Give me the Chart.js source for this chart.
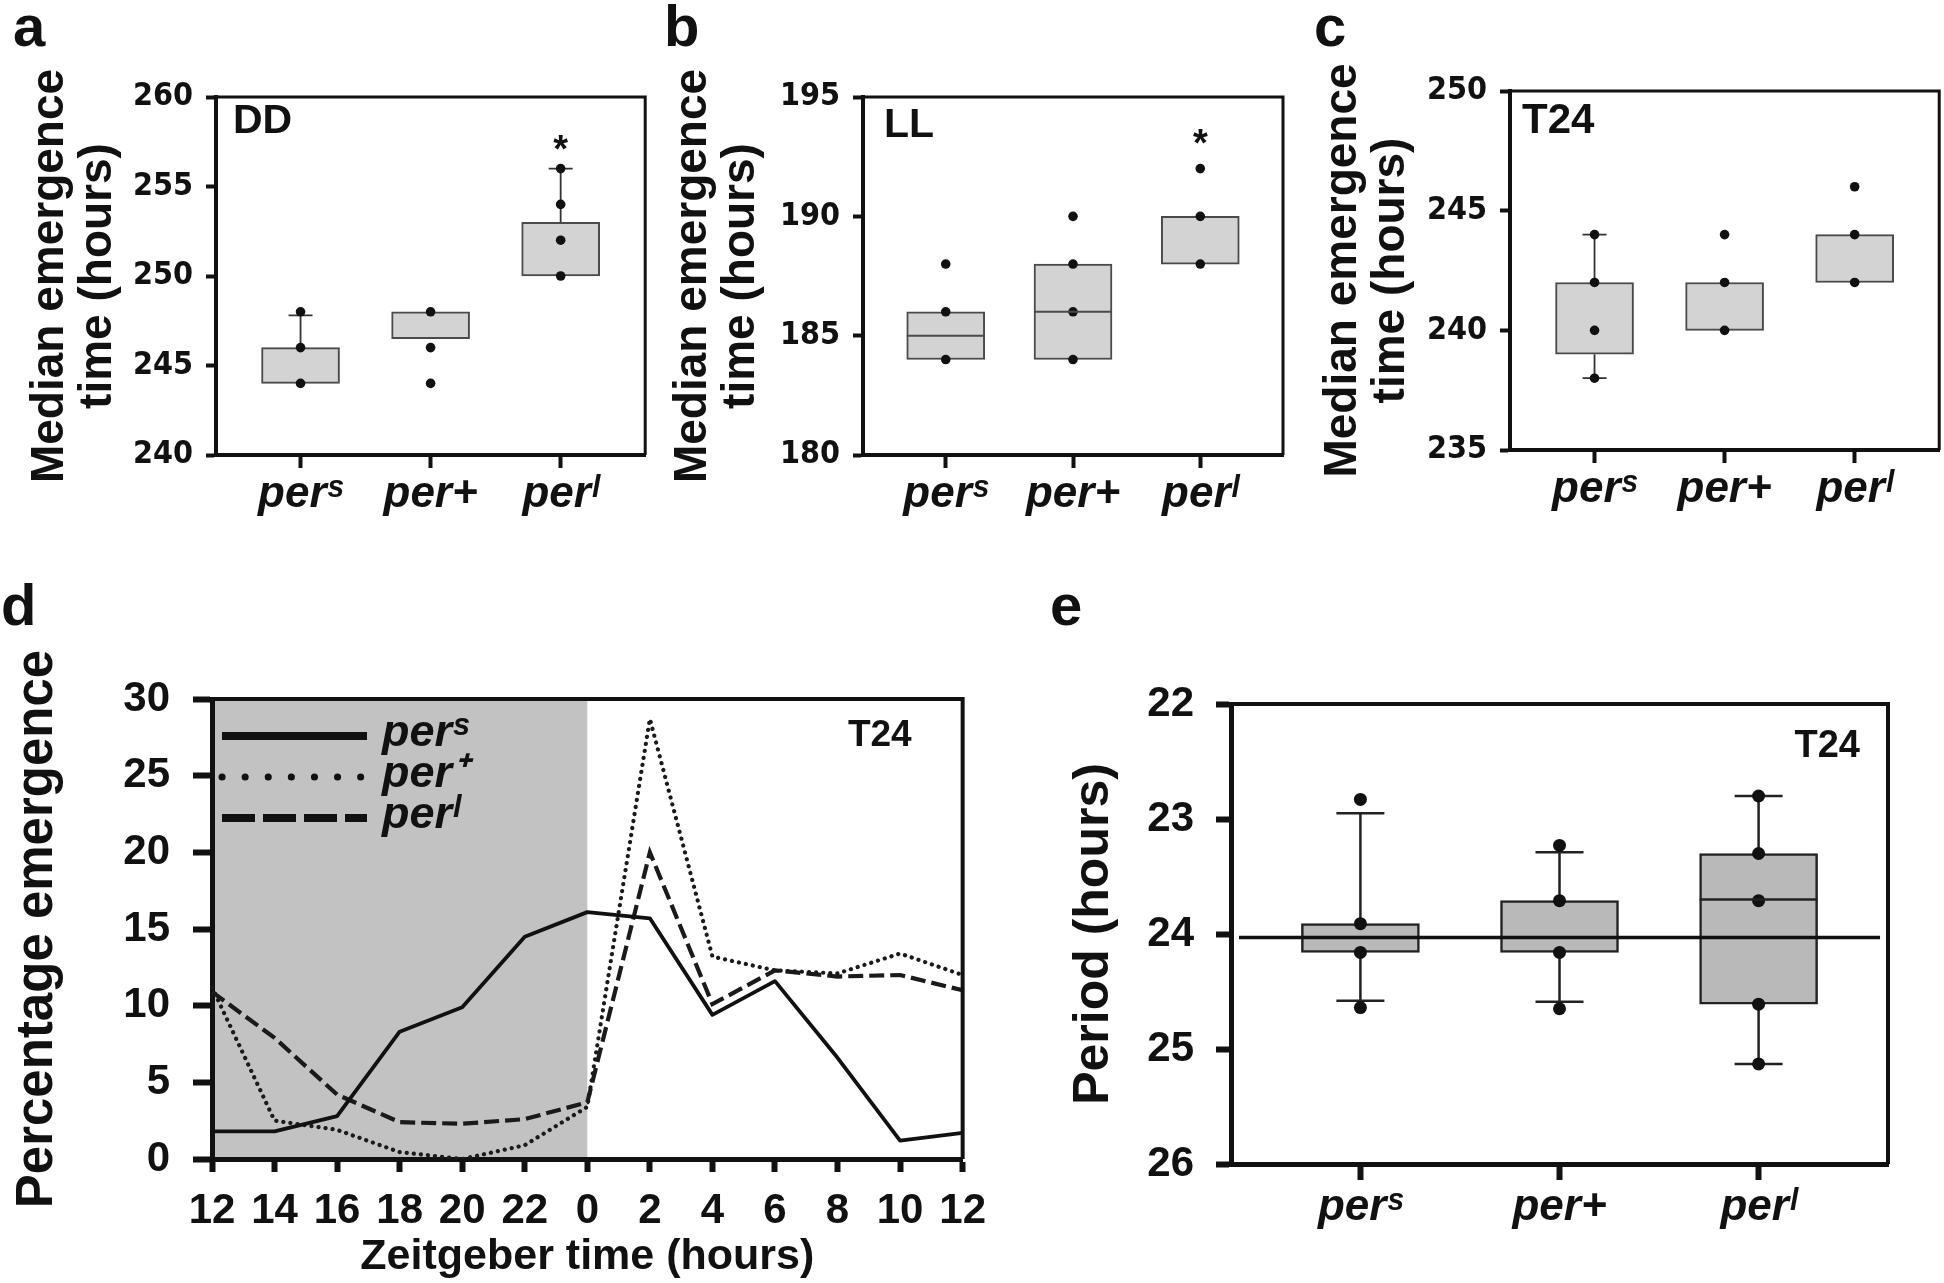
<!DOCTYPE html>
<html>
<head>
<meta charset="utf-8">
<title>Emergence timing of per mutants</title>
<script src="https://cdn.jsdelivr.net/npm/chart.js@4.4.1/dist/chart.umd.min.js"></script>
<style>
  html, body { margin: 0; padding: 0; background: #fff; }
  body { position: relative; width: 1944px; height: 1283px; overflow: hidden; }
  .panel { position: absolute; }
  .letter { position: absolute; font: bold 58px/58px "Liberation Sans", Arial, sans-serif; color: #111; z-index: 2; }
</style>
</head>
<body>
<div class="panel" style="left:0;top:0;width:650px;height:530px"><canvas id="chartA"></canvas></div>
<div class="panel" style="left:650px;top:0;width:650px;height:530px"><canvas id="chartB"></canvas></div>
<div class="panel" style="left:1300px;top:0;width:644px;height:530px"><canvas id="chartC"></canvas></div>
<div class="panel" style="left:0;top:580px;width:1000px;height:703px"><canvas id="chartD"></canvas></div>
<div class="panel" style="left:1050px;top:580px;width:894px;height:703px"><canvas id="chartE"></canvas></div>
<div class="letter" style="left:13px;top:-3px">a</div>
<div class="letter" style="left:664px;top:-3px">b</div>
<div class="letter" style="left:1314px;top:-3px">c</div>
<div class="letter" style="left:1px;top:576px">d</div>
<div class="letter" style="left:1050px;top:576px">e</div>
<script>
const SANS = '"Liberation Sans", Arial, sans-serif';
const NARROW = '"Liberation Sans Narrow", "Arial Narrow", "DejaVu Sans Condensed", sans-serif';
Chart.defaults.color = "#111";
Chart.defaults.font.family = SANS;

// genotypes (x categories of the box panels)
const groups = ["perˢ", "per+", "perˡ"];
const groupPos = [1, 2, 3];

// a: median emergence, DD
const ddTicks = [240, 245, 250, 255, 260];
const ddPoints = [[248, 246, 244], [248, 246, 244], [256, 254, 252, 250]];
const ddBoxLow = [244, 246.5, 250];
const ddBoxHigh = [246, 248, 253];
const ddWhiskerHigh = [247.8, null, 256];
const ddStars = [null, null, 257.4];

// b: median emergence, LL
const llTicks = [180, 185, 190, 195];
const llPoints = [[188, 186, 184], [190, 188, 186, 184], [192, 190, 188]];
const llBoxLow = [184, 184, 188];
const llBoxHigh = [186, 188, 190];
const llMedian = [185, 186, null];
const llStars = [null, null, 193.3];

// c: median emergence, T24
const t24Ticks = [235, 240, 245, 250];
const t24Points = [[244, 242, 240, 238], [244, 242, 240], [246, 244, 242]];
const t24BoxLow = [239, 240, 242];
const t24BoxHigh = [242, 242, 244];
const t24WhiskerLow = [238, null, null];
const t24WhiskerHigh = [244, null, null];

// d: percentage emergence over Zeitgeber time
const ztLabels = ["12", "14", "16", "18", "20", "22", "0", "2", "4", "6", "8", "10", "12"];
const pctTicks = [0, 5, 10, 15, 20, 25, 30];
const persPct = [1.8, 1.8, 2.8, 8.3, 9.9, 14.5, 16.1, 15.7, 9.4, 11.6, 6.6, 1.2, 1.7];
const perPlusPct = [11.2, 2.5, 1.9, 0.45, 0, 0.9, 3.4, 28.7, 13.2, 12.3, 12.1, 13.4, 12.0];
const perlPct = [10.9, 7.9, 4.2, 2.4, 2.3, 2.6, 3.7, 20.0, 10.1, 12.3, 11.9, 12.0, 11.0];
const darkPhase = [0, 6];

// e: free-running period, T24
const periodTicks = [22, 23, 24, 25, 26];
const periodPoints = [[22.83, 23.91, 24.16, 24.64], [23.23, 23.71, 24.16, 24.65], [22.80, 23.30, 23.71, 24.61, 25.13]];
const periodBoxLow = [23.91, 23.71, 23.30];
const periodBoxHigh = [24.16, 24.16, 24.61];
const periodMedian = [null, null, 23.70];
const periodWhiskerLow = [22.95, 23.29, 22.80];
const periodWhiskerHigh = [24.58, 24.59, 25.13];
const periodRef = 24.03;
const periodRefSpan = [0.39, 3.61];

const frame = {
  id: "frame",
  afterDraw(chart, args, o) {
    const { ctx, chartArea: a } = chart;
    ctx.save();
    ctx.strokeStyle = "#111";
    ctx.lineWidth = o.width;
    ctx.beginPath();
    ctx.moveTo(a.left, a.top);
    ctx.lineTo(a.right, a.top);
    ctx.lineTo(a.right, a.bottom);
    ctx.stroke();
    ctx.restore();
  }
};

const tag = {
  id: "tag",
  afterDraw(chart, args, o) {
    const { ctx, chartArea: a } = chart;
    ctx.save();
    ctx.font = o.font;
    ctx.fillStyle = "#111";
    ctx.textAlign = o.align;
    ctx.textBaseline = "alphabetic";
    ctx.fillText(o.text, o.align === "right" ? a.right - o.dx : a.left + o.dx, a.top + o.dy);
    ctx.restore();
  }
};

const boxExtras = {
  id: "boxExtras",
  beforeDatasetsDraw(chart) {
    const ds = chart.data.datasets[0];
    const { ctx, scales: { x, y } } = chart;
    ctx.save();
    ctx.strokeStyle = ds.whiskerColor;
    ctx.lineWidth = ds.whiskerWidth;
    ds.data.forEach((box, i) => {
      const cx = x.getPixelForValue(box.x);
      [[box.y[0], ds.whiskerLow[i]], [box.y[1], ds.whiskerHigh[i]]].forEach(([from, to]) => {
        if (to == null) return;
        const y1 = y.getPixelForValue(to);
        ctx.beginPath();
        ctx.moveTo(cx, y.getPixelForValue(from));
        ctx.lineTo(cx, y1);
        ctx.moveTo(cx - ds.capHalf, y1);
        ctx.lineTo(cx + ds.capHalf, y1);
        ctx.stroke();
      });
    });
    ctx.restore();
  },
  afterDatasetsDraw(chart) {
    const ds = chart.data.datasets[0];
    const { ctx, scales: { x, y } } = chart;
    const bars = chart.getDatasetMeta(0).data;
    ctx.save();
    ctx.strokeStyle = ds.borderColor;
    ctx.lineWidth = ds.borderWidth;
    ds.medians.forEach((m, i) => {
      if (m == null) return;
      const py = y.getPixelForValue(m);
      ctx.beginPath();
      ctx.moveTo(bars[i].x - bars[i].width / 2, py);
      ctx.lineTo(bars[i].x + bars[i].width / 2, py);
      ctx.stroke();
    });
    ctx.fillStyle = "#111";
    ctx.font = "bold 38px " + SANS;
    ctx.textAlign = "center";
    ctx.textBaseline = "middle";
    ds.stars.forEach((s, i) => {
      if (s == null) return;
      ctx.fillText("*", x.getPixelForValue(groupPos[i]), y.getPixelForValue(s) + 8);
    });
    ctx.restore();
  }
};

function boxChart(id, d, s, g) {
  const datasets = [
    {
      type: "bar",
      data: d.boxLow.map((lo, i) => ({ x: groupPos[i], y: [lo, d.boxHigh[i]] })),
      backgroundColor: s.fill,
      borderColor: s.edge,
      borderWidth: s.edgeWidth,
      borderSkipped: false,
      barThickness: s.boxWidth,
      order: 3,
      medians: d.medians || [],
      whiskerLow: d.whiskerLow || [],
      whiskerHigh: d.whiskerHigh || [],
      stars: d.stars || [],
      whiskerColor: s.whiskerColor,
      whiskerWidth: s.whiskerWidth,
      capHalf: s.capHalf
    },
    {
      type: "scatter",
      data: d.points.flatMap((vals, i) => vals.map(v => ({ x: groupPos[i], y: v }))),
      backgroundColor: "#111",
      borderColor: "#111",
      borderWidth: 0,
      pointRadius: s.dot,
      order: 2
    }
  ];
  if (d.refLine != null) {
    datasets.push({
      type: "line",
      data: d.refSpan.map(v => ({ x: v, y: d.refLine })),
      borderColor: "#111",
      borderWidth: s.refWidth,
      pointRadius: 0,
      order: 1
    });
  }
  return new Chart(document.getElementById(id), {
    type: "bar",
    data: { datasets },
    options: {
      responsive: true,
      maintainAspectRatio: false,
      animation: false,
      layout: { padding: { top: g.padTop, right: g.padRight, left: 0, bottom: 0 } },
      plugins: {
        legend: { display: false },
        tooltip: { enabled: false },
        frame: { width: s.frameWidth },
        tag: g.tag
      },
      scales: {
        x: {
          type: "linear",
          min: 0.35,
          max: 3.65,
          offset: false,
          afterBuildTicks: ax => { ax.ticks = groupPos.map(v => ({ value: v })); },
          afterFit: ax => { ax.height = g.xAxisH; },
          ticks: { callback: v => groups[v - 1], font: s.xFont, color: "#111", padding: s.xPad, maxRotation: 0 },
          grid: { drawOnChartArea: false, offset: false, tickLength: s.xTickLen, tickWidth: s.tickWidth, tickColor: "#111" },
          border: { width: s.axisWidth, color: "#111" }
        },
        y: {
          min: d.ticks[0],
          max: d.ticks[d.ticks.length - 1],
          reverse: !!d.reverse,
          afterBuildTicks: ax => { ax.ticks = d.ticks.map(v => ({ value: v })); },
          afterFit: ax => { ax.width = g.yAxisW; },
          ticks: { font: s.yFont, color: "#111", padding: s.yPad },
          grid: { drawOnChartArea: false, tickLength: s.yTickLen, tickWidth: s.tickWidth, tickColor: "#111" },
          border: { width: s.axisWidth, color: "#111" },
          title: { display: true, text: d.title, font: s.titleFont, color: "#111", padding: { top: g.titlePad, bottom: 0 } }
        }
      }
    },
    plugins: [boxExtras, frame, tag]
  });
}

const topStyle = {
  fill: "#d3d3d3", edge: "#4a4a4a", edgeWidth: 2, boxWidth: 78, dot: 4.8,
  whiskerColor: "#333", whiskerWidth: 1.8, capHalf: 12,
  axisWidth: 4, frameWidth: 3, tickWidth: 4, xTickLen: 13, yTickLen: 10,
  yFont: { family: NARROW, size: 32, weight: "bold" },
  xFont: { family: SANS, size: 44, weight: "bold", style: "italic" },
  titleFont: { family: SANS, size: 46, weight: "bold", lineHeight: 1.05 },
  yPad: 13, xPad: 0
};
const emergenceTitle = ["Median emergence", "time (hours)"];

boxChart("chartA",
  { ticks: ddTicks, points: ddPoints, boxLow: ddBoxLow, boxHigh: ddBoxHigh, whiskerHigh: ddWhiskerHigh, stars: ddStars, title: emergenceTitle },
  topStyle,
  { yAxisW: 216, xAxisH: 75, padTop: 97, padRight: 3, titlePad: 26,
    tag: { text: "DD", dx: 17, dy: 36, align: "left", font: "bold 41px " + SANS } });

boxChart("chartB",
  { ticks: llTicks, points: llPoints, boxLow: llBoxLow, boxHigh: llBoxHigh, medians: llMedian, stars: llStars, title: emergenceTitle },
  topStyle,
  { yAxisW: 213, xAxisH: 75, padTop: 97, padRight: 17, titlePad: 19,
    tag: { text: "LL", dx: 21, dy: 40, align: "left", font: "bold 41px " + SANS } });

boxChart("chartC",
  { ticks: t24Ticks, points: t24Points, boxLow: t24BoxLow, boxHigh: t24BoxHigh, whiskerLow: t24WhiskerLow, whiskerHigh: t24WhiskerHigh, title: emergenceTitle },
  topStyle,
  { yAxisW: 210, xAxisH: 80, padTop: 91, padRight: 3, titlePad: 19,
    tag: { text: "T24", dx: 12, dy: 42, align: "left", font: "bold 42px " + SANS } });

boxChart("chartE",
  { ticks: periodTicks, reverse: true, points: periodPoints, boxLow: periodBoxLow, boxHigh: periodBoxHigh, medians: periodMedian,
    whiskerLow: periodWhiskerLow, whiskerHigh: periodWhiskerHigh, refLine: periodRef, refSpan: periodRefSpan, title: "Period (hours)" },
  {
    fill: "#b9b9b9", edge: "#222", edgeWidth: 2.5, boxWidth: 118, dot: 6.5,
    whiskerColor: "#222", whiskerWidth: 2.5, capHalf: 24, refWidth: 3.5,
    axisWidth: 5, frameWidth: 4, tickWidth: 6, xTickLen: 16, yTickLen: 15,
    yFont: { family: SANS, size: 42, weight: "bold" },
    xFont: { family: SANS, size: 44, weight: "bold", style: "italic" },
    titleFont: { family: SANS, size: 50, weight: "bold", lineHeight: 1.1 },
    yPad: 22, xPad: 1
  },
  { yAxisW: 181, xAxisH: 119, padTop: 124, padRight: 56, titlePad: 16.5,
    tag: { text: "T24", dx: 28, dy: 53, align: "right", font: "bold 38px " + SANS } });

// d: line chart with dark-phase shading and an inset legend
const darkBand = {
  id: "darkBand",
  beforeDraw(chart, args, o) {
    const { ctx, chartArea: a, scales: { x } } = chart;
    ctx.save();
    ctx.fillStyle = o.color;
    const x0 = x.getPixelForValue(darkPhase[0]);
    ctx.fillRect(x0, a.top, x.getPixelForValue(darkPhase[1]) - x0, a.bottom - a.top);
    ctx.restore();
  }
};

const insetLegend = {
  id: "insetLegend",
  afterDatasetsDraw(chart, args, o) {
    const { ctx, chartArea: a } = chart;
    ctx.save();
    chart.data.datasets.forEach((ds, i) => {
      const yy = a.top + o.firstRow + i * o.rowGap;
      ctx.strokeStyle = "#111";
      ctx.lineWidth = ds.legendWidth;
      ctx.lineCap = ds.legendCap;
      ctx.setLineDash(ds.legendDash);
      ctx.beginPath();
      ctx.moveTo(a.left + o.lineStart, yy);
      ctx.lineTo(a.left + o.lineEnd, yy);
      ctx.stroke();
      ctx.setLineDash([]);
      ctx.fillStyle = "#111";
      ctx.font = "italic bold 45px " + SANS;
      ctx.textAlign = "left";
      ctx.textBaseline = "alphabetic";
      ctx.fillText(ds.label, a.left + o.textStart, yy + 10);
    });
    ctx.restore();
  }
};

new Chart(document.getElementById("chartD"), {
  type: "line",
  data: {
    labels: ztLabels,
    datasets: [
      { label: "perˢ", data: persPct, borderColor: "#111", borderWidth: 3.8, borderJoinStyle: "round",
        pointRadius: 0, tension: 0, legendWidth: 8, legendDash: [], legendCap: "butt" },
      { label: "per⁺", data: perPlusPct, borderColor: "#1a1a1a", borderWidth: 4.2, borderDash: [0.1, 7], borderCapStyle: "round",
        pointRadius: 0, tension: 0, legendWidth: 7, legendDash: [0.1, 23], legendCap: "round" },
      { label: "perˡ", data: perlPct, borderColor: "#1a1a1a", borderWidth: 4.2, borderDash: [15, 6],
        pointRadius: 0, tension: 0, legendWidth: 8, legendDash: [33, 8], legendCap: "butt" }
    ]
  },
  options: {
    responsive: true,
    maintainAspectRatio: false,
    animation: false,
    layout: { padding: { top: 119, right: 31, left: 0, bottom: 0 } },
    plugins: {
      legend: { display: false },
      tooltip: { enabled: false },
      darkBand: { color: "#c2c2c2" },
      insetLegend: { firstRow: 37, rowGap: 41, lineStart: 10, lineEnd: 155, textStart: 170 },
      frame: { width: 4 },
      tag: { text: "T24", dx: 51, dy: 47, align: "right", font: "bold 37px " + SANS }
    },
    scales: {
      x: {
        type: "category",
        offset: false,
        afterFit: ax => { ax.height = 124; },
        ticks: { autoSkip: false, maxRotation: 0, font: { family: SANS, size: 42, weight: "bold" }, color: "#111", padding: 14 },
        grid: { drawOnChartArea: false, offset: false, tickLength: 13, tickWidth: 6, tickColor: "#111" },
        border: { width: 5, color: "#111" },
        title: { display: true, text: "Zeitgeber time (hours)", font: { family: SANS, size: 43, weight: "bold", lineHeight: 1.2 }, color: "#111", padding: { top: 0, bottom: 0 } }
      },
      y: {
        min: 0,
        max: 30,
        afterBuildTicks: ax => { ax.ticks = pctTicks.map(v => ({ value: v })); },
        afterFit: ax => { ax.width = 212; },
        ticks: { font: { family: SANS, size: 42, weight: "bold" }, color: "#111", padding: 23 },
        grid: { drawOnChartArea: false, tickLength: 19, tickWidth: 6, tickColor: "#111" },
        border: { width: 5, color: "#111" },
        title: { display: true, text: "Percentage emergence", font: { family: SANS, size: 51, weight: "bold", lineHeight: 1.1 }, color: "#111", padding: { top: 10, bottom: 0 } }
      }
    }
  },
  plugins: [darkBand, insetLegend, frame, tag]
});
</script>
</body>
</html>
